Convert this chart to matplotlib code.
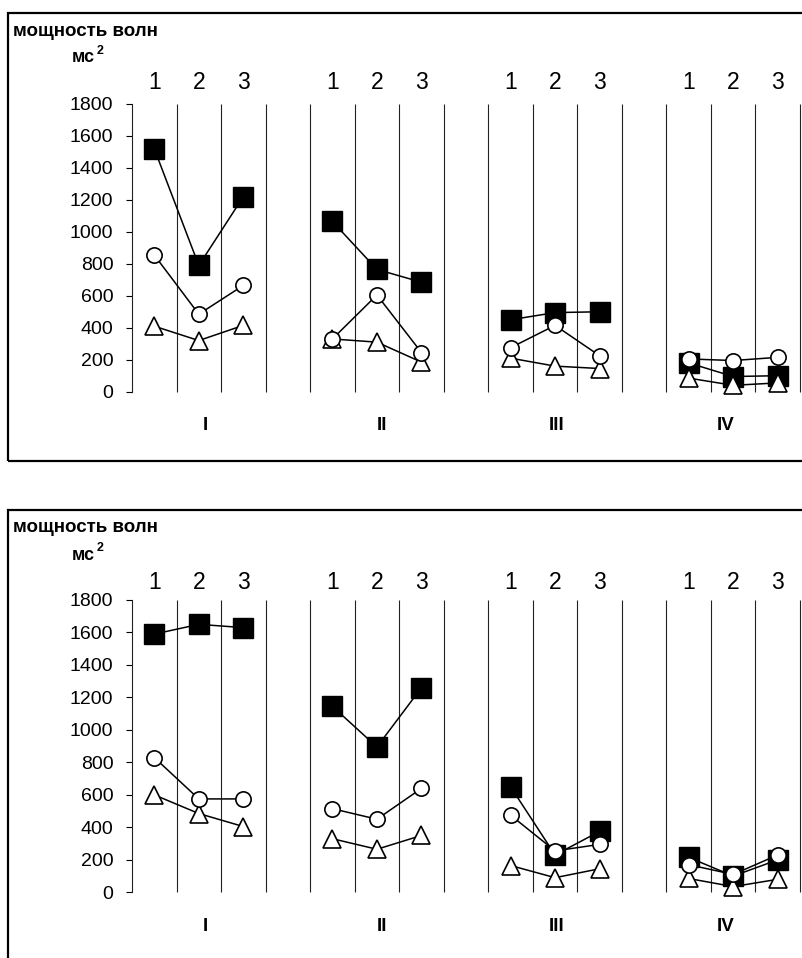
import numpy as np
import matplotlib
matplotlib.use("Agg")
import matplotlib.pyplot as plt
from matplotlib.patches import Rectangle

plt.rcParams['font.family'] = ['Liberation Sans', 'DejaVu Sans']

# ---------------- data ----------------
groups = ['I', 'II', 'III', 'IV']
positions = ['1', '2', '3']
y_ticks = [0, 200, 400, 600, 800, 1000, 1200, 1400, 1600, 1800]
title_text = 'мощность волн'
unit_text = 'мс'

top_squares = [[1520, 790, 1220], [1065, 765, 685], [450, 495, 500], [180, 95, 100]]
top_circles = [[855, 485, 665], [330, 605, 245], [275, 415, 225], [205, 195, 215]]
top_triangles = [[410, 320, 415], [330, 310, 185], [210, 160, 145], [85, 40, 55]]

bot_squares = [[1590, 1650, 1630], [1145, 895, 1260], [650, 230, 375], [215, 100, 200]]
bot_circles = [[830, 575, 575], [515, 450, 640], [475, 255, 295], [170, 110, 230]]
bot_triangles = [[600, 485, 405], [330, 265, 350], [165, 90, 145], [85, 35, 80]]

# ---------------- layout ----------------
W, H = 802, 958
DPI = 100
PX = 72.0 / DPI  # points per pixel
roman_x = [1.14, 5.11, 9.04, 12.83]  # category-axis positions of group labels


def flatten(groups_vals):
    out = []
    for gi, vals in enumerate(groups_vals):
        out.extend(vals)
        if gi < len(groups_vals) - 1:
            out.append(np.nan)
    return np.array(out, dtype=float)


def rect(x0, ytop, x1, ybot):
    return [x0 / W, 1 - ybot / H, (x1 - x0) / W, (ybot - ytop) / H]


fig = plt.figure(figsize=(W / DPI, H / DPI), dpi=DPI)


def panel(frame_top, frame_bot, title_y, unit_y, lab_y, ax_top, ax_bot, roman_y,
          squares, circles, triangles):
    # frame
    fr = Rectangle((8 / W, 1 - frame_bot / H), (W + 20 - 8) / W, (frame_bot - frame_top) / H,
                   transform=fig.transFigure, fill=False, edgecolor='black',
                   linewidth=1.6, zorder=0)
    fig.patches.append(fr)

    ax = fig.add_axes(rect(132, ax_top, 800, ax_bot))
    n = 4 * len(positions) + len(groups) - 1
    x = np.arange(n)
    ax.set_xlim(-0.5, n - 0.5)
    ax.set_ylim(0, 1800)
    for s in ['top', 'right', 'bottom']:
        ax.spines[s].set_visible(False)
    ax.spines['left'].set_color('#222222')
    ax.spines['left'].set_linewidth(0.8)
    ax.set_xticks([])
    ax.set_yticks(y_ticks)
    ax.tick_params(axis='y', direction='out', length=4.5, width=0.8, pad=9,
                   labelsize=14, colors='black')
    ax.patch.set_alpha(0)

    ax.vlines(np.arange(0.5, n, 1.0), 0, 1800, colors='#222222', linewidth=0.8,
              clip_on=False, zorder=1)

    lw = 1.1
    ax.plot(x, flatten(squares), color='black', lw=lw, marker='s', markersize=15,
            markerfacecolor='black', markeredgecolor='black', zorder=3, clip_on=False)
    ax.plot(x, flatten(triangles), color='black', lw=lw, marker='^', markersize=13.5,
            markerfacecolor='white', markeredgecolor='black', markeredgewidth=1.2,
            zorder=4, clip_on=False)
    ax.plot(x, flatten(circles), color='black', lw=lw, marker='o', markersize=11,
            markerfacecolor='white', markeredgecolor='black', markeredgewidth=1.2,
            zorder=5, clip_on=False)

    # category numbers above
    idx = 0
    for gi, g in enumerate(groups):
        for p in positions:
            ax.annotate(p, xy=(idx, 1), xycoords=('data', 'axes fraction'),
                        xytext=(0, (ax_top - lab_y) * PX), textcoords='offset points',
                        ha='center', va='center', fontsize=16.5)
            idx += 1
        idx += 1
    # group labels below
    for gx, g in zip(roman_x, groups):
        ax.annotate(g, xy=(gx, 0), xycoords=('data', 'axes fraction'),
                    xytext=(0, -(roman_y - ax_bot) * PX), textcoords='offset points',
                    ha='center', va='center', fontsize=13.5, fontweight='bold')

    fig.text(13 / W, 1 - title_y / H, title_text, ha='left', va='center',
             fontsize=13.5, fontweight='bold')
    fig.text(72 / W, 1 - unit_y / H, unit_text, ha='left', va='center',
             fontsize=13, fontweight='bold')
    fig.text(97 / W, 1 - (unit_y - 7) / H, '2', ha='left', va='center',
             fontsize=9, fontweight='bold')
    return ax


panel(13, 461, 31.5, 58, 82.5, 104, 391.7, 425.5,
      top_squares, top_circles, top_triangles)
panel(510, 980, 528, 555, 582.5, 600, 892.3, 926.7,
      bot_squares, bot_circles, bot_triangles)

fig.savefig('out.png', dpi=DPI)
